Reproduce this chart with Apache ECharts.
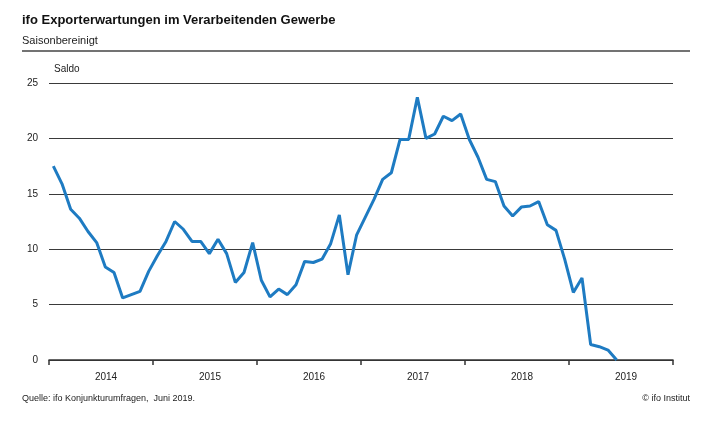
<!DOCTYPE html>
<html>
<head>
<meta charset="utf-8">
<script src="https://cdn.jsdelivr.net/npm/echarts@6/dist/echarts.min.js"></script>
<style>html,body{margin:0;padding:0;background:#fff;}#c{width:715px;height:421px;}</style>
</head>
<body>
<div id="c"></div>
<script>
// Monthly values, Jan 2014 - Jun 2019
var years = ['2014', '2015', '2016', '2017', '2018', '2019'];
var v2014 = [17.5, 15.9, 13.6, 12.8, 11.6, 10.6, 8.4, 7.9, 5.6, 5.9, 6.2, 8.0];
var v2015 = [9.4, 10.7, 12.5, 11.8, 10.7, 10.7, 9.6, 10.9, 9.6, 7.0, 7.9, 10.6];
var v2016 = [7.2, 5.7, 6.4, 5.9, 6.8, 8.9, 8.8, 9.1, 10.5, 13.1, 7.7, 11.3];
var v2017 = [12.9, 14.5, 16.3, 16.9, 19.9, 19.9, 23.7, 20.0, 20.4, 22.0, 21.6, 22.2];
var v2018 = [19.9, 18.3, 16.3, 16.1, 13.9, 13.0, 13.8, 13.9, 14.3, 12.2, 11.7, 9.1];
var v2019 = [6.1, 7.4, 1.4, 1.2, 0.9, 0.0];
var yTicks = [0, 5, 10, 15, 20, 25];

var values = [].concat(v2014, v2015, v2016, v2017, v2018, v2019);
var seriesData = values.map(function (v, i) { return [i + 0.5, v]; });

var chart = echarts.init(document.getElementById('c'));
var font = 'Liberation Sans';
chart.setOption({
  backgroundColor: '#fff',
  animation: false,
  grid: { left: 49, right: 42, top: 83, bottom: 61 },
  xAxis: [{
    type: 'value', min: 0, max: 72, interval: 12,
    axisLine: { show: true, lineStyle: { color: '#333', width: 1.5 } },
    axisTick: { show: true, length: 5, inside: false, lineStyle: { color: '#333', width: 1.5 } },
    axisLabel: { show: false },
    splitLine: { show: false }
  }, {
    type: 'category', data: years, position: 'bottom', boundaryGap: true,
    axisLine: { show: false }, axisTick: { show: false },
    axisLabel: { fontFamily: font, fontSize: 10, color: '#222', margin: 12, padding: [0, 0, 0, 10] },
    splitLine: { show: false }
  }],
  yAxis: {
    type: 'value', min: 0, max: 25, interval: 5,
    axisLine: { show: false }, axisTick: { show: false },
    axisLabel: { fontFamily: font, fontSize: 10, color: '#222', margin: 11,
      formatter: function (v) { return yTicks.indexOf(v) >= 0 ? String(v) : ''; } },
    splitLine: { show: true, lineStyle: { color: '#3a3a3a', width: 1 } }
  },
  series: [{
    type: 'line', xAxisIndex: 0, data: seriesData, showSymbol: false,
    lineStyle: { color: '#1e7bc2', width: 3 }, z: 5
  }],
  graphic: [
    { type: 'text', left: 22, top: 14, style: { text: 'ifo Exporterwartungen im Verarbeitenden Gewerbe', font: 'bold 13px ' + font, fill: '#111' } },
    { type: 'text', left: 22, top: 35, style: { text: 'Saisonbereinigt', font: '11px ' + font, fill: '#222' } },
    { type: 'line', shape: { x1: 22, y1: 51, x2: 690, y2: 51 }, style: { stroke: '#444', lineWidth: 1.5 } },
    { type: 'text', left: 54, top: 64, style: { text: 'Saldo', font: '10px ' + font, fill: '#222' } },
    { type: 'text', left: 22, top: 394, style: { text: 'Quelle: ifo Konjunkturumfragen,  Juni 2019.', font: '9px ' + font, fill: '#222' } },
    { type: 'text', right: 25, top: 394, style: { text: '\u00a9 ifo Institut', font: '9px ' + font, fill: '#222' } }
  ]
});
</script>
</body>
</html>
